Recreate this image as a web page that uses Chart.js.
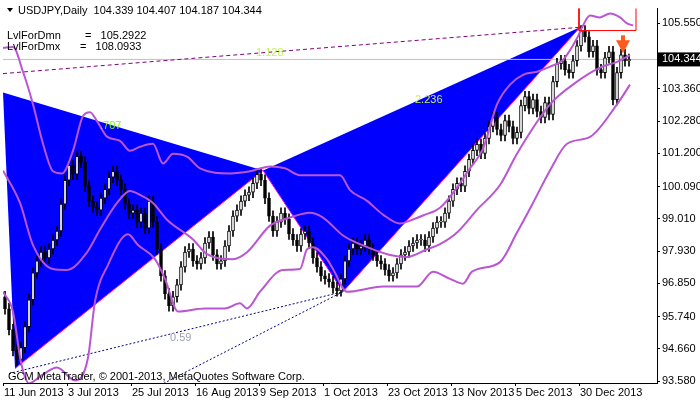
<!doctype html>
<html>
<head>
<meta charset="utf-8">
<script src="https://cdn.jsdelivr.net/npm/chart.js@4.4.1/dist/chart.umd.min.js"></script>
<style>
  body { margin: 0; background: #fff; }
  #wrap { position: relative; width: 700px; height: 402px; }
</style>
</head>
<body>
<div id="wrap"><canvas id="c" width="700" height="402"></canvas></div>
<script>
// daily closes, bar 0 = 11 Jun 2013 (open = previous close)
const CLOSE = [
  96.0, 95.3, 94.6, 94.3,
  94.7, 95.4, 96.3, 97.2, 97.6,
  97.9, 97.7, 98.0, 98.3, 98.6,
  99.5, 100.3, 100.8, 100.5, 101.1,
  100.9, 100.1, 99.6, 99.4, 99.3,
  99.7, 100.0, 100.4, 100.6, 100.3,
  100.0, 99.5, 99.2, 99.3, 98.9,
  99.2, 98.7, 99.6, 98.9, 98.0,
  97.1, 96.5, 96.1, 96.4, 96.8,
  97.4, 97.9, 98.0, 97.6, 97.5,
  97.7, 98.2, 98.4, 97.8, 97.5,
  97.6, 98.1, 98.6, 99.1, 99.3,
  99.6, 99.8, 99.9, 100.2, 100.5,
  100.3, 99.7, 99.1, 98.6, 98.9,
  99.2, 99.0, 98.5, 98.3, 98.1,
  98.5, 98.6, 98.2, 97.7, 97.4,
  97.1, 97.0, 96.9, 96.7, 96.6,
  97.0, 97.6, 98.0, 98.2, 98.0,
  98.1, 98.3, 98.0, 97.8, 97.6,
  97.5, 97.3, 97.1, 97.2, 97.5,
  97.8, 97.9, 98.1, 98.2, 98.3,
  98.3, 98.1, 98.4, 98.7, 98.9,
  98.9, 99.2, 99.6, 100.0, 100.2,
  100.1, 100.6, 101.0, 101.3, 101.5,
  101.2, 101.7, 102.1, 102.4, 102.0,
  101.8, 102.3, 102.1, 101.7, 101.9,
  102.8, 103.1, 102.7, 103.0, 102.6,
  102.4, 102.9, 102.5, 103.6, 104.2,
  104.3, 104.0, 103.9, 104.3, 104.8,
  105.3, 105.1, 104.6, 104.8, 104.0,
  103.9, 104.4, 104.6, 103.0, 103.9,
  104.5, 104.3, 104.344
];
const FIRST_OPEN = 96.4;
const WICK = 0.18;

// envelope bands: [barIndex, price]
const UPPER = [[-0.5,104.73],[2,104.76],[4.5,103.93],[7,102.84],[9.5,101.52],[12,100.6],[14.25,100.53],[17,101.29],[19.5,102.45],[21.25,102.58],[23,102.28],[25.5,101.76],[28.75,101.62],[31.25,101.29],[33.75,101.42],[37,101.52],[39.5,100.86],[42,101.19],[45.5,101.09],[48.75,100.7],[56.25,100.53],[61.25,100.6],[66.25,100.76],[70,100.7],[73.75,100.47],[83.75,100.47],[86.25,99.97],[90.5,99.61],[94.5,99.15],[98.75,98.85],[101.25,98.95],[104.5,99.12],[108.75,99.38],[112,99.87],[116.25,100.7],[119.5,101.36],[123,102.84],[126.25,103.5],[129.5,103.83],[133,103.93],[136.25,104.1],[139.5,104.33],[143,105.05],[144.5,105.48],[146.25,105.81],[148.75,105.75],[151.25,105.88],[153.75,105.75],[155.5,105.55],[157,105.48]];
const MIDDLE = [[-0.5,100.63],[3.75,99.54],[7,98.13],[12,97.33],[15.5,97.3],[20.5,97.89],[23.75,98.65],[28,99.54],[31.25,99.94],[33.75,99.81],[37,99.54],[40.5,98.98],[47,98.32],[50.5,97.83],[57,97.66],[60.5,97.89],[66.25,98.78],[71.25,99.05],[76.25,99.21],[79.5,99.05],[84.5,98.45],[88.75,98.16],[96.25,97.8],[100.5,97.73],[105.5,97.99],[108.75,98.16],[113,98.55],[118,99.31],[123.75,100.14],[128,101.19],[136.25,102.84],[143,103.6],[148.75,104.07],[153,104.26],[156.25,104.49]];
const LOWER = [[-0.5,96.57],[2,95.9],[4,94.2],[6,93.5],[9.5,93.8],[13,94.03],[17.5,93.6],[20.75,94.36],[22.5,96.24],[25.75,97.47],[30.75,98.49],[33.25,98.13],[37.5,97.66],[40,97.0],[43.25,95.91],[50,96.01],[55,96.01],[58.75,96.18],[60.5,96.01],[63.75,96.57],[69.5,97.3],[73.75,97.33],[75.5,97.99],[77,98.06],[80.5,97.66],[82,97.33],[85.5,96.57],[94.5,96.74],[103,96.74],[107,97.24],[111.25,97.0],[114.5,96.84],[116.75,97.24],[123.75,97.56],[128,98.55],[132,99.54],[136.25,100.63],[140.5,101.52],[146.25,101.75],[153,102.84],[156.25,103.5]];

// pattern triangles and trend lines
const TRI_A = [[-0.5,103.24],[64.5,100.63],[2.5,94.0]];
const TRI_B = [[64.5,100.63],[143.75,105.42],[84.5,96.57]];
const TRI_A_EDGE = [[2.5,94.0],[64.5,100.63]];
const TRI_B_EDGE = [[64.5,100.63],[84.5,96.57],[143.75,105.42]];
const TOP_LINE = [[-0.5,103.87],[143.75,105.42]];
const LOW_LINE_1 = [[1,93.83],[84.5,96.57]];
const LOW_LINE_2 = [[38.75,93.44],[84.5,96.57]];
const BOX = [[143.5,106.2],[143.5,105.31],[157.75,105.31],[157.75,106.2]];

const LAST = 104.344;
const X_TICKS = [-0.5, 15.5, 31.5, 47.5, 63.5, 79.5, 95.5, 111.5, 127.5, 143.5];
const X_LABELS = ['11 Jun 2013','3 Jul 2013','25 Jul 2013','16 Aug 2013','9 Sep 2013','1 Oct 2013','23 Oct 2013','13 Nov 2013','5 Dec 2013','30 Dec 2013'];
const Y_TICKS = [93.58, 94.66, 95.74, 96.85, 97.93, 99.01, 100.09, 101.2, 102.28, 103.36, 105.55];

const FONT = '"Liberation Sans", Arial, sans-serif';
const pts = a => a.map(([x, y]) => ({ x, y }));

const opens = CLOSE.map((c, i) => i === 0 ? FIRST_OPEN : CLOSE[i - 1]);
const bodies = CLOSE.map((c, i) => ({ x: i, y: [opens[i], c] }));
const wicks = CLOSE.map((c, i) => ({ x: i, y: [Math.min(opens[i], c) - WICK, Math.max(opens[i], c) + WICK] }));
const bodyFill = CLOSE.map((c, i) => c >= opens[i] ? '#ffffff' : '#000000');

const band = (data) => ({ type: 'line', data: pts(data), borderColor: '#BA55D3', borderWidth: 2, pointRadius: 0, cubicInterpolationMode: 'monotone', fill: false, order: 1 });
const tri = (data) => ({ type: 'line', data: pts(data), backgroundColor: '#0000FF', borderWidth: 0, pointRadius: 0, fill: 'shape', order: 20 });
const edge = (data) => ({ type: 'line', data: pts(data), borderColor: '#FF00FF', borderWidth: 1, pointRadius: 0, fill: false, order: 19 });
const dash = (data, color, d) => ({ type: 'line', data: pts(data), borderColor: color, borderWidth: 1, borderDash: d, pointRadius: 0, fill: false, order: 15 });

const overlay = {
  id: 'overlay',
  afterDraw(chart) {
    const { ctx, scales: { x, y } } = chart;
    ctx.save();
    ctx.font = '11px ' + FONT;
    ctx.textBaseline = 'middle';
    ctx.fillStyle = '#7CFC00'; ctx.fillText('.707', 100, 126);
    ctx.fillStyle = '#C8F060'; ctx.fillText('1.128', 256, 53); ctx.fillText('2.236', 415, 100);
    ctx.fillStyle = '#9aa0b0'; ctx.fillText('0.59', 170, 338);
    ctx.fillStyle = '#000';
    ctx.beginPath(); ctx.moveTo(7, 8); ctx.lineTo(13, 8); ctx.lineTo(10, 12); ctx.closePath(); ctx.fill();
    ctx.fillText('USDJPY,Daily  104.339 104.407 104.187 104.344', 18, 11);
    ctx.fillText('LvlForDmn', 7, 36); ctx.fillText('=   105.2922', 85, 36);
    ctx.fillText('LvlForDmx', 7, 47); ctx.fillText('=   108.0933', 80, 47);
    ctx.fillText('GCM MetaTrader, © 2001-2013, MetaQuotes Software Corp.', 8, 377);
    ctx.textBaseline = 'top';
    X_TICKS.forEach((v, i) => ctx.fillText(X_LABELS[i], x.getPixelForValue(v) + 1, 387));
    ctx.textBaseline = 'middle';
    const py = y.getPixelForValue(LAST);
    ctx.fillStyle = '#000'; ctx.fillRect(658, py - 7, 42, 14);
    ctx.fillStyle = '#fff'; ctx.fillText('104.344', 662, py);
    const ax = x.getPixelForValue(154.5);
    const a0 = y.getPixelForValue(105.15), a1 = y.getPixelForValue(104.85), a2 = y.getPixelForValue(104.55);
    ctx.fillStyle = '#FF5A1E';
    ctx.fillRect(ax - 2, a0, 4, a1 - a0);
    ctx.beginPath(); ctx.moveTo(ax - 7, a1 - 4); ctx.lineTo(ax + 7, a1 - 4); ctx.lineTo(ax, a2); ctx.closePath(); ctx.fill();
    ctx.restore();
  }
};

new Chart(document.getElementById('c'), {
  type: 'line',
  data: {
    datasets: [
      tri(TRI_A), tri(TRI_B), edge(TRI_A_EDGE), edge(TRI_B_EDGE),
      dash(TOP_LINE, '#800080', [4, 3]),
      dash(LOW_LINE_1, '#000080', [2, 2]),
      dash(LOW_LINE_2, '#000080', [2, 2]),
      { type: 'line', data: [{ x: -0.5, y: LAST }, { x: 163, y: LAST }], borderColor: '#C0C0C0', borderWidth: 1, pointRadius: 0, order: 16 },
      { type: 'bar', data: wicks, backgroundColor: '#000', barThickness: 1, grouped: false, order: 6 },
      { type: 'bar', data: bodies, backgroundColor: bodyFill, borderColor: '#000', borderWidth: 1, borderSkipped: false, barThickness: 3, minBarLength: 1, grouped: false, order: 5 },
      band(UPPER), band(MIDDLE), band(LOWER),
      { type: 'line', data: pts(BOX), borderColor: '#FF0000', borderWidth: 1, pointRadius: 0, order: 0 },
    ]
  },
  options: {
    responsive: false,
    animation: false,
    layout: { autoPadding: false, padding: { left: 3, top: 3, right: 0, bottom: 0 } },
    plugins: { legend: { display: false }, tooltip: { enabled: false } },
    scales: {
      x: {
        type: 'linear', min: -0.5, max: 163, offset: false,
        afterBuildTicks: s => { s.ticks = X_TICKS.map(v => ({ value: v })); },
        afterFit: s => { s.height = 19; },
        grid: { drawOnChartArea: false, offset: false, tickLength: 3, color: '#000' },
        border: { color: '#000' },
        ticks: { display: false }
      },
      y: {
        position: 'right', min: 93.514, max: 106.045,
        afterBuildTicks: s => { s.ticks = Y_TICKS.map(v => ({ value: v })); },
        afterFit: s => { s.width = 43; },
        grid: { drawOnChartArea: false, tickLength: 3, color: '#000' },
        border: { color: '#000' },
        ticks: { color: '#000', font: { family: FONT, size: 11 }, padding: 2, callback: v => v.toFixed(3) }
      }
    }
  },
  plugins: [overlay]
});
</script>
</body>
</html>
